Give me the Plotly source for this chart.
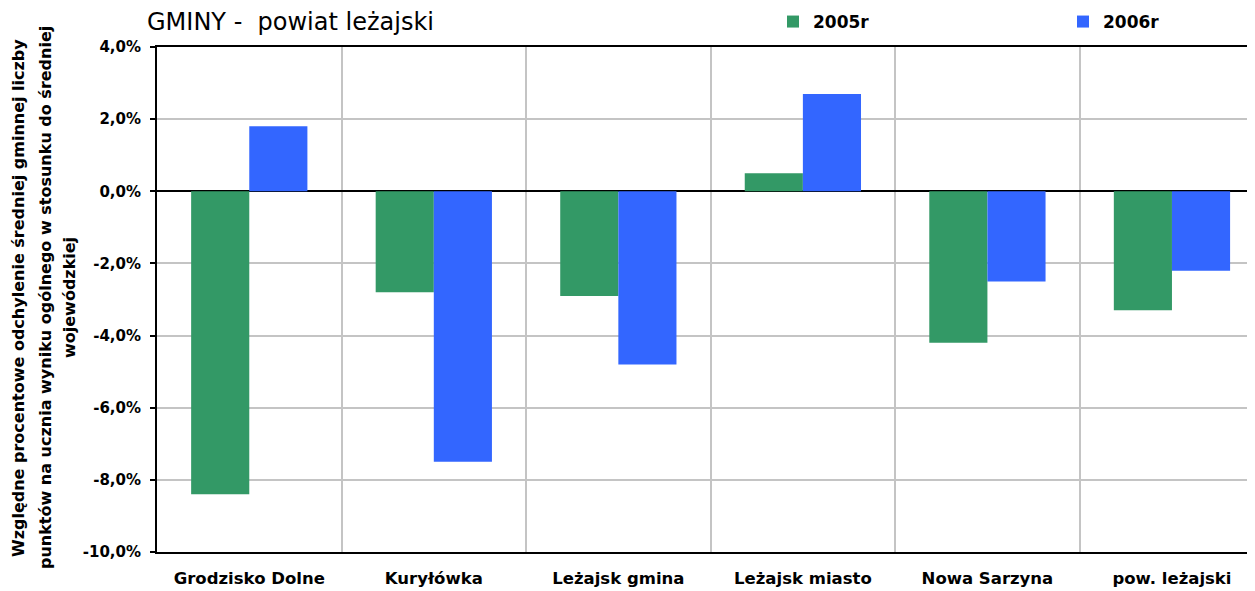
import plotly.graph_objects as go

categories = ["Grodzisko Dolne", "Kuryłówka", "Leżajsk gmina", "Leżajsk miasto", "Nowa Sarzyna", "pow. leżajski"]
values_2005 = [-8.4, -2.8, -2.9, 0.5, -4.2, -3.3]
values_2006 = [1.8, -7.5, -4.8, 2.7, -2.5, -2.2]
series_names = ["2005r", "2006r"]
y_tickvals = [4, 2, 0, -2, -4, -6, -8, -10]
y_ticktext = ["4,0%", "2,0%", "0,0%", "-2,0%", "-4,0%", "-6,0%", "-8,0%", "-10,0%"]
y_title_lines = [
    "Względne procentowe odchylenie średniej gminnej liczby",
    "punktów na ucznia wyniku ogólnego w stosunku do średniej",
    "wojewódzkiej",
]

FONT = "DejaVu Sans, Verdana, sans-serif"
# page body has an 8px margin; figure sized to fill the rest of the window
OFF = 8
W, H = 1255 - OFF, 591 - OFF
L, T, B = 157 - OFF, 47 - OFF, 39
PW, PH = W - L, H - T - B

fig = go.Figure()
fig.add_trace(go.Bar(x=categories, y=values_2005, name=series_names[0], marker_color="#339966",
                     marker_line_width=0, legend="legend"))
fig.add_trace(go.Bar(x=categories, y=values_2006, name=series_names[1], marker_color="#3366FF",
                     marker_line_width=0, legend="legend2"))

legend_font = dict(size=17, family=FONT, color="black", weight="bold")
fig.update_layout(
    width=W, height=H,
    margin=dict(l=L, r=0, t=T, b=B, autoexpand=False),
    paper_bgcolor="white", plot_bgcolor="white",
    barmode="group", bargap=0.37, bargroupgap=0,
    font=dict(family=FONT, color="black"),
    title=dict(text="GMINY -  powiat leżajski", xref="container", x=(147 - OFF) / W, xanchor="left",
               yref="container", y=1 - (22 - OFF) / H, yanchor="middle",
               font=dict(size=24, family=FONT, color="black")),
    legend=dict(xref="container", x=(773 - OFF) / W, xanchor="left",
                yref="container", y=1 - (22 - OFF) / H, yanchor="middle", font=legend_font,
                bgcolor="rgba(0,0,0,0)", borderwidth=0),
    legend2=dict(xref="container", x=(1063 - OFF) / W, xanchor="left",
                 yref="container", y=1 - (22 - OFF) / H, yanchor="middle", font=legend_font,
                 bgcolor="rgba(0,0,0,0)", borderwidth=0),
    showlegend=True,
)
fig.update_xaxes(
    type="category", range=[-0.5, 5.45], tickson="boundaries",
    showgrid=True, gridcolor="#c4c4c4", gridwidth=2,
    showline=True, linecolor="black", linewidth=2, mirror=True,
    ticks="", tickfont=dict(size=16.5, family=FONT, color="black", weight="bold"),
    ticklabelstandoff=10, automargin=False,
)
fig.update_yaxes(
    range=[-10, 4], tickvals=y_tickvals, ticktext=y_ticktext,
    showgrid=True, gridcolor="#c4c4c4", gridwidth=2,
    zeroline=True, zerolinecolor="black", zerolinewidth=2,
    showline=True, linecolor="black", linewidth=2,
    ticks="outside", ticklen=5, tickwidth=2, tickcolor="black",
    tickfont=dict(size=15, family=FONT, color="black", weight="bold"),
    ticklabelstandoff=6, automargin=False,
)

line_x = [18, 45, 69]
for txt, px in zip(y_title_lines, line_x):
    fig.add_annotation(text=txt, xref="paper", yref="paper",
                       x=(px - OFF - L) / PW, y=(H - B - (298 - OFF)) / PH,
                       xanchor="center", yanchor="middle", textangle=-90, showarrow=False,
                       font=dict(size=16, family=FONT, color="black", weight="bold"))

fig.write_html("out.html")
